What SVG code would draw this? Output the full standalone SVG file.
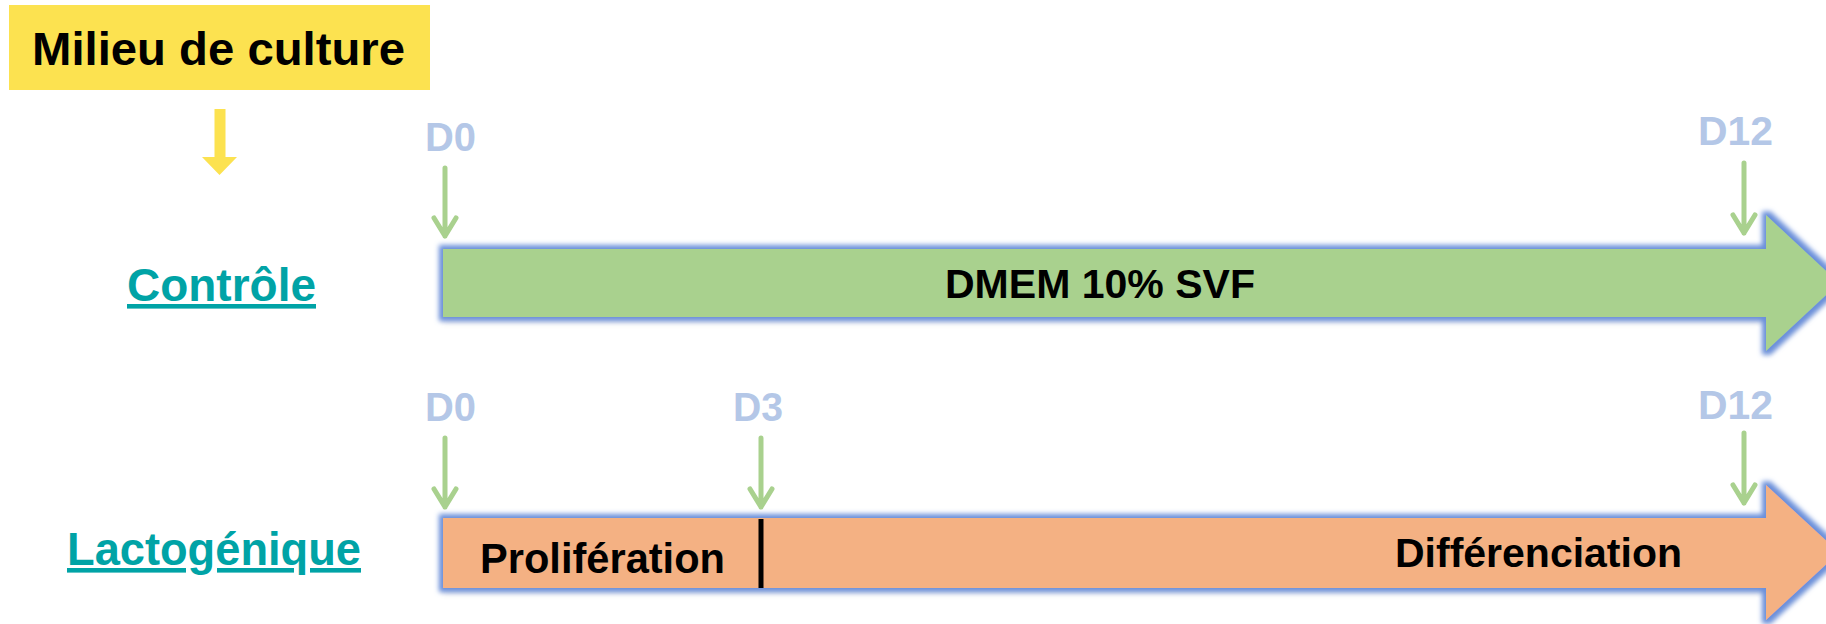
<svg xmlns="http://www.w3.org/2000/svg" width="1826" height="624" viewBox="0 0 1826 624">
  <style>
    text { font-family: "Liberation Sans", Arial, sans-serif; font-weight: bold; }
    .title { font-size: 47px; fill: #000; }
    .day { font-size: 41px; fill: #B4C7E7; }
    .group { font-size: 46px; fill: #00A3A6; text-decoration: underline; }
    .bar { font-size: 41px; fill: #000; }
    .tick { fill: none; stroke: #A9D18E; stroke-width: 5; stroke-linecap: round; stroke-linejoin: round; }
  </style>
  <defs>
    <filter id="glow" x="-5%" y="-40%" width="110%" height="180%">
      <feGaussianBlur in="SourceAlpha" stdDeviation="3" result="sb"/>
      <feOffset in="sb" dy="5" result="so"/>
      <feFlood flood-color="#000" flood-opacity="0.22"/>
      <feComposite in2="so" operator="in" result="shadow"/>
      <feMorphology in="SourceAlpha" operator="dilate" radius="4" result="d"/>
      <feGaussianBlur in="d" stdDeviation="2.6" result="db"/>
      <feFlood flood-color="#6A8FDA"/>
      <feComposite in2="db" operator="in" result="g"/>
      <feMerge>
        <feMergeNode in="shadow"/>
        <feMergeNode in="g"/>
        <feMergeNode in="SourceGraphic"/>
      </feMerge>
    </filter>
  </defs>
  <rect width="1826" height="624" fill="#fff"/>

  <g id="milieu">
    <rect x="9" y="5" width="421" height="85" fill="#FCE250"/>
    <text class="title" x="32" y="65" textLength="373" lengthAdjust="spacingAndGlyphs">Milieu de culture</text>
  </g>

  <g id="controle-label">
    <text class="group" x="127" y="301" textLength="189" lengthAdjust="spacingAndGlyphs">Contrôle</text>
  </g>

  <g id="lacto-label">
    <text class="group" x="67" y="565" textLength="294" lengthAdjust="spacingAndGlyphs">Lactogénique</text>
  </g>

  <g id="controle-bar">
    <path d="M443,249 H1766 V215 L1839,283 L1766,351 V317 H443 Z" fill="#A9D18E" filter="url(#glow)"/>
    <text class="bar" x="945" y="298" textLength="310" lengthAdjust="spacingAndGlyphs">DMEM 10% SVF</text>
  </g>

  <g id="lacto-bar">
    <path d="M443,518 H1766 V485 L1839,552.5 L1766,620 V588 H443 Z" fill="#F4B183" filter="url(#glow)"/>
    <rect x="758.5" y="519" width="5" height="69" fill="#000"/>
    <text class="bar" x="480" y="573" style="font-size:42px" textLength="245" lengthAdjust="spacingAndGlyphs">Prolifération</text>
    <text class="bar" x="1395" y="567" textLength="287" lengthAdjust="spacingAndGlyphs">Différenciation</text>
  </g>

  <g id="day-labels">
    <text class="day" x="425" y="151" textLength="51" lengthAdjust="spacingAndGlyphs">D0</text>
    <text class="day" x="1698" y="145" textLength="75" lengthAdjust="spacingAndGlyphs">D12</text>
    <text class="day" x="425" y="421" textLength="51" lengthAdjust="spacingAndGlyphs">D0</text>
    <text class="day" x="733" y="421" textLength="50" lengthAdjust="spacingAndGlyphs">D3</text>
    <text class="day" x="1698" y="419" textLength="75" lengthAdjust="spacingAndGlyphs">D12</text>
  </g>

  <g id="connectors">
    <polygon points="214.5,109 225.5,109 225.5,157 237,157 219.5,175 202,157 214.5,157" fill="#FCE250"/>
    <path class="tick" d="M445,168 V236 M434,218 L445,236 L456,218"/>
    <path class="tick" d="M1744,163 V233 M1733,215 L1744,233 L1755,215"/>
    <path class="tick" d="M445,438 V507 M434,489 L445,507 L456,489"/>
    <path class="tick" d="M761,438 V507 M750,489 L761,507 L772,489"/>
    <path class="tick" d="M1744,433 V503 M1733,485 L1744,503 L1755,485"/>
  </g>
</svg>
